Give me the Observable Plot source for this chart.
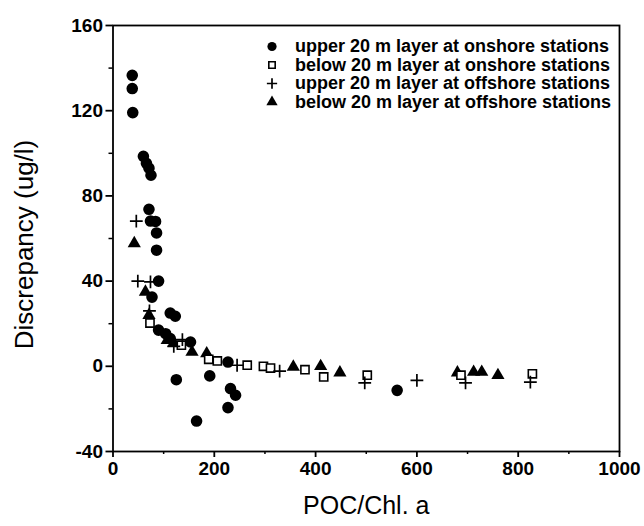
<!DOCTYPE html>
<html><head><meta charset="utf-8">
<script src="https://cdn.jsdelivr.net/npm/d3@7"></script>
<script src="https://cdn.jsdelivr.net/npm/@observablehq/plot@0.6"></script>
<style>body{margin:0;background:#fff} #chart{width:644px;height:526px}</style>
</head><body><div id="chart"></div>
<script>
// upper 20 m layer at onshore stations (filled circles)
const upperOnshoreX = [38, 38, 39, 60, 66, 71, 75, 71, 74, 84, 86, 86, 90, 77, 90, 113, 123, 104, 113, 153, 227, 125, 191, 232, 242, 227, 165, 561];
const upperOnshoreY = [136.6, 130.4, 119.1, 98.6, 95.3, 93, 89.7, 73.7, 68.2, 68, 62.6, 54.5, 40, 32.5, 17, 25, 23.5, 15.3, 13, 11.4, 2, -6.3, -4.5, -10.5, -13.6, -19.4, -25.7, -11.3];
// below 20 m layer at onshore stations (open squares)
const belowOnshoreX = [73, 135, 189, 206, 265, 297, 311, 379, 416, 502, 687, 828];
const belowOnshoreY = [20.3, 9.9, 3.3, 2.5, 0.5, 0, -0.8, -1.6, -5, -4.2, -4.2, -3.5];
// upper 20 m layer at offshore stations (plus)
const upperOffshoreX = [46, 49, 74, 72, 120, 137, 245, 329, 497, 600, 696, 824];
const upperOffshoreY = [68.2, 40, 39.6, 26, 9.4, 12.5, 0.5, -2.3, -7.8, -6.6, -7.8, -7.4];
// below 20 m layer at offshore stations (filled triangles)
const belowOffshoreX = [42, 64, 71, 107, 120, 156, 185, 356, 410, 448, 680, 712, 728, 760];
const belowOffshoreY = [57.7, 34.9, 24, 12.2, 11, 6.7, 6, -0.3, 0, -3, -3, -2.7, -2.7, -4.2];

const seriesLabels = [
  "upper 20 m layer at onshore stations",
  "below 20 m layer at onshore stations",
  "upper 20 m layer at offshore stations",
  "below 20 m layer at offshore stations"
];
const xTicks = [0, 200, 400, 600, 800, 1000];
const yTicks = [-40, 0, 40, 80, 120, 160];
const xLabel = "POC/Chl. a";
const yLabel = "Discrepancy (ug/l)";

const toRows = (xs, ys) => xs.map((x, i) => ({x, y: ys[i]}));
const styles = [
  {symbol: "circle", fill: "black", stroke: "none", r: 5.8, lr: 4.6},
  {symbol: "square", fill: "white", stroke: "black", strokeWidth: 1.6, r: 4.6, lr: 3.6},
  {symbol: "plus", fill: "none", stroke: "black", strokeWidth: 1.7, r: 4.2, lr: 3.4},
  {symbol: "triangle", fill: "black", stroke: "none", r: 4.9, lr: 4.2}
];
const data = [
  toRows(upperOnshoreX, upperOnshoreY),
  toRows(belowOnshoreX, belowOnshoreY),
  toRows(upperOffshoreX, upperOffshoreY),
  toRows(belowOffshoreX, belowOffshoreY)
];
const drawOrder = [0, 3, 1, 2];

const marks = [];
for (const k of drawOrder) {
  const s = styles[k];
  marks.push(Plot.dot(data[k], {x: "x", y: "y", symbol: () => s.symbol, r: s.r, fill: s.fill, stroke: s.stroke, strokeWidth: s.strokeWidth || 1}));
}
// legend inside frame
seriesLabels.forEach((lab, i) => {
  const s = styles[i];
  marks.push(Plot.dot([lab], {frameAnchor: "top-left", dx: 159, dy: 21 + i * 18.5, symbol: () => s.symbol, r: s.lr, fill: s.fill, stroke: s.stroke, strokeWidth: s.strokeWidth || 1}));
  marks.push(Plot.text([lab], {frameAnchor: "top-left", dx: 182, dy: 21 + i * 18.5, text: d => d, textAnchor: "start", lineAnchor: "middle", fontSize: 18, fontWeight: "bold", fill: "black"}));
});
const fmt = d => String(d);
// axes
marks.push(Plot.axisY({ticks: yTicks, tickSize: 7, tickPadding: 3, strokeWidth: 1.8, fontSize: 19, fontWeight: "bold", tickFormat: fmt, label: null}));
marks.push(Plot.axisY({ticks: d3.range(-20, 160, 40), tickSize: 4, strokeWidth: 1.5, tickFormat: () => "", label: null}));
marks.push(Plot.axisX({ticks: xTicks, tickSize: 6, tickPadding: 4, strokeWidth: 1.8, fontSize: 19, fontWeight: "bold", tickFormat: fmt, label: null}));
marks.push(Plot.axisX({ticks: d3.range(100, 1000, 200), tickSize: 3, strokeWidth: 1.5, tickFormat: () => "", label: null}));
marks.push(Plot.frame({stroke: "black", strokeWidth: 1.8}));
marks.push(Plot.text([yLabel], {frameAnchor: "left", dx: -88, dy: 6, rotate: -90, textAnchor: "middle", lineAnchor: "middle", text: d => d, fontSize: 26, fill: "black"}));
marks.push(Plot.text([xLabel], {frameAnchor: "bottom", dy: 54, textAnchor: "middle", lineAnchor: "middle", text: d => d, fontSize: 25, fill: "black"}));

const chart = Plot.plot({
  width: 644,
  height: 526,
  marginLeft: 112.5,
  marginRight: 25,
  marginTop: 25,
  marginBottom: 75,
  style: {fontFamily: "'Liberation Sans', Arial, sans-serif", color: "black", background: "white", overflow: "visible"},
  x: {domain: [0, 1000]},
  y: {domain: [-40, 160]},
  marks
});
document.getElementById("chart").appendChild(chart);
</script>
</body></html>
